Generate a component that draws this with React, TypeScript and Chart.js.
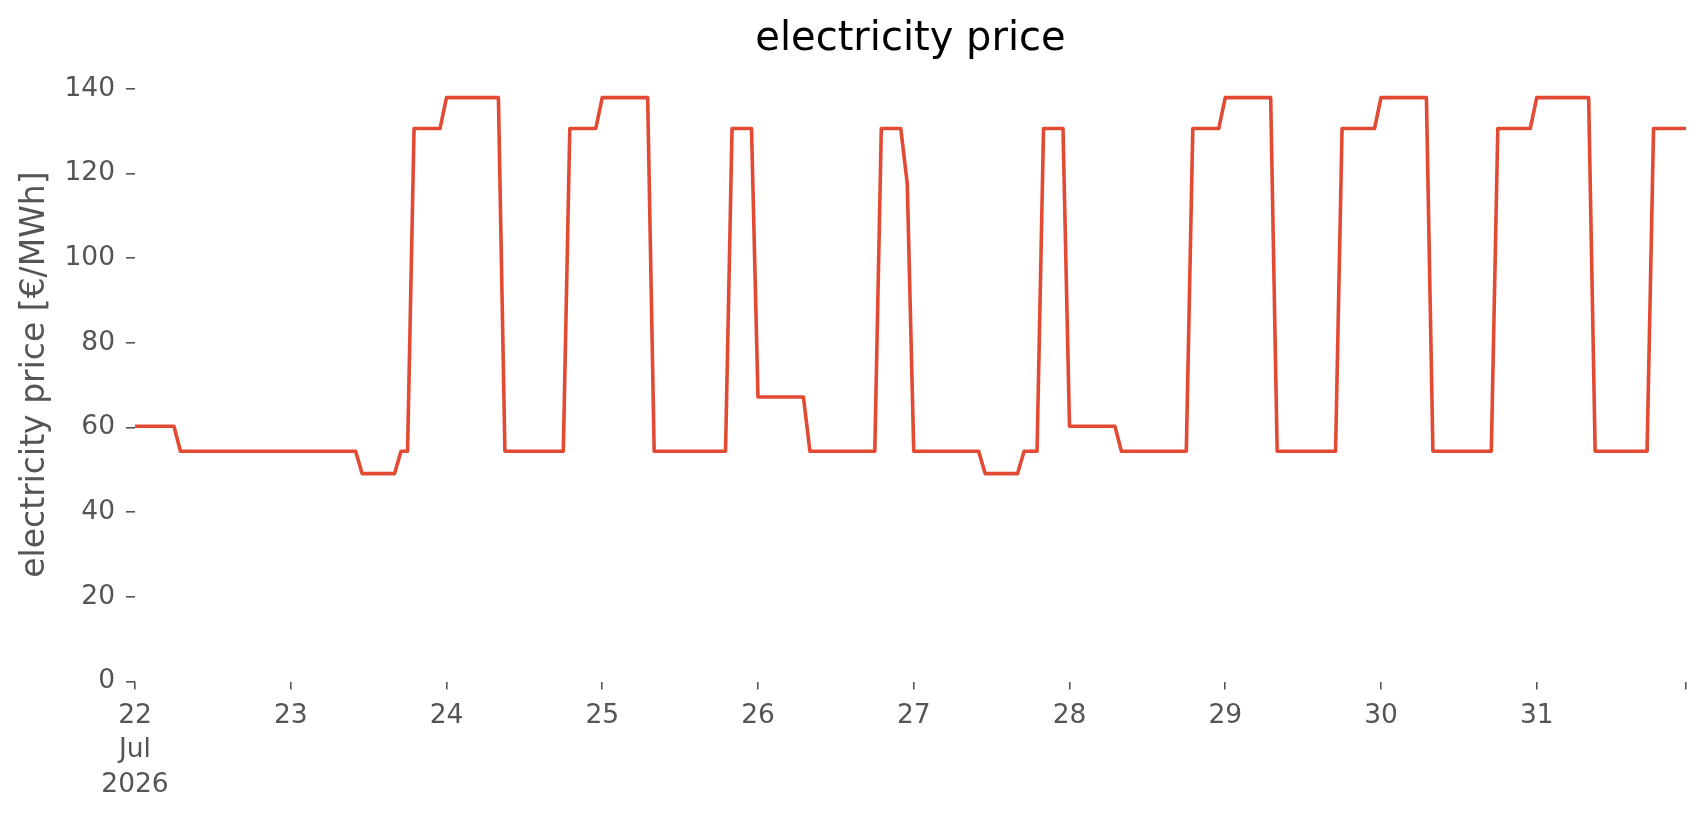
import { Chart, registerables } from 'chart.js';
import { useEffect, useRef } from 'react';

Chart.register(...registerables);

// hourly prices, one array per day (22 Jul 2026 00:00 ... 31 Jul 2026 23:00)
const day22 = [60.3, 60.3, 60.3, 60.3, 60.3, 60.3, 60.3, 54.4, 54.4, 54.4, 54.4, 54.4, 54.4, 54.4, 54.4, 54.4, 54.4, 54.4, 54.4, 54.4, 54.4, 54.4, 54.4, 54.4];
const day23 = [54.4, 54.4, 54.4, 54.4, 54.4, 54.4, 54.4, 54.4, 54.4, 54.4, 54.4, 49.1, 49.1, 49.1, 49.1, 49.1, 49.1, 54.4, 54.4, 130.6, 130.6, 130.6, 130.6, 130.6];
const day24 = [137.9, 137.9, 137.9, 137.9, 137.9, 137.9, 137.9, 137.9, 137.9, 54.4, 54.4, 54.4, 54.4, 54.4, 54.4, 54.4, 54.4, 54.4, 54.4, 130.6, 130.6, 130.6, 130.6, 130.6];
const day25 = [137.9, 137.9, 137.9, 137.9, 137.9, 137.9, 137.9, 137.9, 54.4, 54.4, 54.4, 54.4, 54.4, 54.4, 54.4, 54.4, 54.4, 54.4, 54.4, 54.4, 130.6, 130.6, 130.6, 130.6];
const day26 = [67.2, 67.2, 67.2, 67.2, 67.2, 67.2, 67.2, 67.2, 54.4, 54.4, 54.4, 54.4, 54.4, 54.4, 54.4, 54.4, 54.4, 54.4, 54.4, 130.6, 130.6, 130.6, 130.6, 117.6];
const day27 = [54.4, 54.4, 54.4, 54.4, 54.4, 54.4, 54.4, 54.4, 54.4, 54.4, 54.4, 49.1, 49.1, 49.1, 49.1, 49.1, 49.1, 54.4, 54.4, 54.4, 130.6, 130.6, 130.6, 130.6];
const day28 = [60.3, 60.3, 60.3, 60.3, 60.3, 60.3, 60.3, 60.3, 54.4, 54.4, 54.4, 54.4, 54.4, 54.4, 54.4, 54.4, 54.4, 54.4, 54.4, 130.6, 130.6, 130.6, 130.6, 130.6];
const day29 = [137.9, 137.9, 137.9, 137.9, 137.9, 137.9, 137.9, 137.9, 54.4, 54.4, 54.4, 54.4, 54.4, 54.4, 54.4, 54.4, 54.4, 54.4, 130.6, 130.6, 130.6, 130.6, 130.6, 130.6];
const day30 = [137.9, 137.9, 137.9, 137.9, 137.9, 137.9, 137.9, 137.9, 54.4, 54.4, 54.4, 54.4, 54.4, 54.4, 54.4, 54.4, 54.4, 54.4, 130.6, 130.6, 130.6, 130.6, 130.6, 130.6];
const day31 = [137.9, 137.9, 137.9, 137.9, 137.9, 137.9, 137.9, 137.9, 137.9, 54.4, 54.4, 54.4, 54.4, 54.4, 54.4, 54.4, 54.4, 54.4, 130.6, 130.6, 130.6, 130.6, 130.6, 130.6];

const days = [day22, day23, day24, day25, day26, day27, day28, day29, day30, day31];

const dayTickLabels: (string | string[])[] = [
  ['22', 'Jul', '2026'], '23', '24', '25', '26', '27', '28', '29', '30', '31',
];

const yTicks = [0, 20, 40, 60, 80, 100, 120, 140];

const prices = days.flat();
const points = prices.map((y, i) => ({ x: i, y }));

const FONT = '"DejaVu Sans", sans-serif';

const PriceChart: React.FC = () => {
  const ref = useRef<HTMLCanvasElement>(null);
  const chartInstance = useRef<Chart | null>(null);

  useEffect(() => {
    if (!ref.current) return;
    const ctx = ref.current.getContext('2d');
    if (!ctx) return;
    if (chartInstance.current) chartInstance.current.destroy();

    chartInstance.current = new Chart(ctx, {
      type: 'line',
      data: {
        datasets: [{
          label: 'electricity price',
          data: points,
          borderColor: '#E24A33',
          borderWidth: 3.6,
          borderJoinStyle: 'round',
          pointRadius: 0,
          tension: 0,
          fill: false,
        }],
      },
      options: {
        responsive: false,
        animation: false,
        devicePixelRatio: 1,
        layout: { padding: { left: 0, right: 20, top: 0, bottom: 0 } },
        plugins: {
          legend: { display: false },
          tooltip: { enabled: false },
          title: {
            display: true,
            fullSize: false,
            text: 'electricity price',
            color: '#000000',
            font: { family: FONT, size: 40, weight: 'normal', lineHeight: 1.2 },
            padding: { top: 16, bottom: 3.6 },
          },
        },
        scales: {
          x: {
            type: 'linear',
            min: 0,
            max: prices.length - 1,
            afterFit: (scale) => { scale.height = 133.5; },
            border: { display: false },
            grid: {
              display: true,
              drawOnChartArea: false,
              drawTicks: true,
              tickLength: 8,
              tickColor: '#555555',
              lineWidth: 1.6,
            },
            ticks: {
              stepSize: 24,
              autoSkip: false,
              maxRotation: 0,
              padding: 9,
              color: '#555555',
              font: { family: FONT, size: 26.5, lineHeight: 1.3 },
              callback: (value) => {
                const v = Number(value);
                return v % 24 === 0 ? dayTickLabels[v / 24] : '';
              },
            },
          },
          y: {
            type: 'linear',
            min: 0,
            max: 145,
            afterFit: (scale) => { scale.width = 135; },
            afterBuildTicks: (scale) => {
              scale.ticks = yTicks.map((value) => ({ value }));
            },
            border: { display: false },
            grid: {
              display: true,
              drawOnChartArea: false,
              drawTicks: true,
              tickLength: 9,
              tickColor: '#555555',
              lineWidth: 1.6,
            },
            ticks: {
              padding: 11,
              color: '#555555',
              font: { family: FONT, size: 26.5 },
            },
            title: {
              display: true,
              text: 'electricity price [€/MWh]',
              color: '#555555',
              font: { family: FONT, size: 33 },
              padding: { top: 16, bottom: 0 },
            },
          },
        },
      },
    });

    return () => {
      if (chartInstance.current) {
        chartInstance.current.destroy();
        chartInstance.current = null;
      }
    };
  }, []);

  return <canvas ref={ref} width={1706} height={815}></canvas>;
};

export default function App() {
  return (
    <div style={{ position: 'absolute', left: 0, top: 0, width: 1706, height: 815, background: '#ffffff' }}>
      <PriceChart />
    </div>
  );
}
